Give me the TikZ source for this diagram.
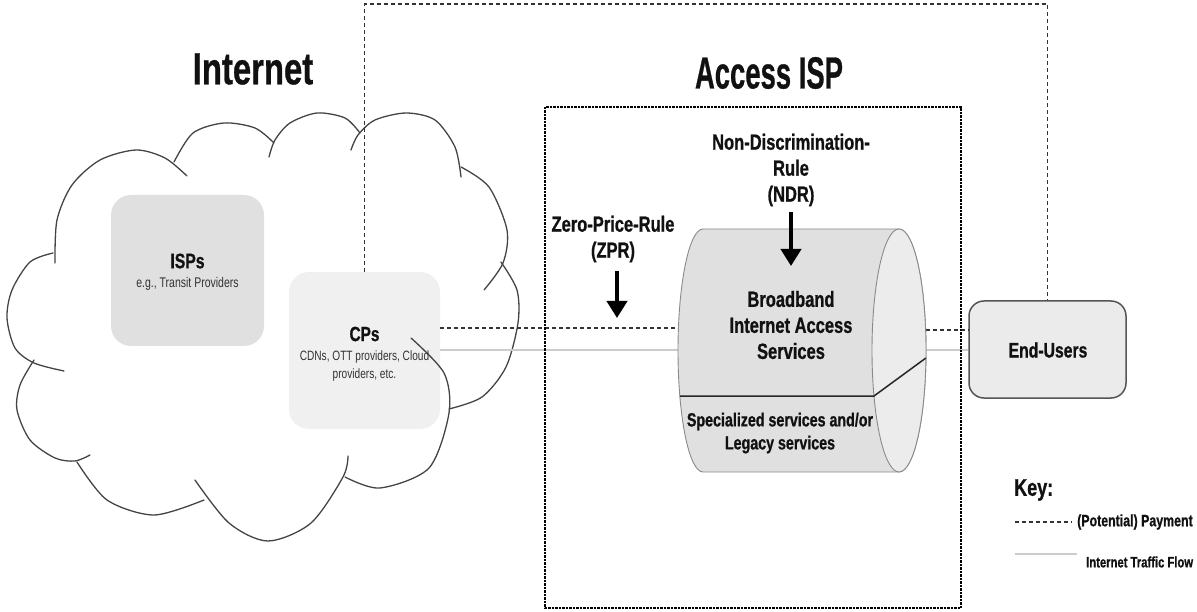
\documentclass[tikz,border=0pt]{standalone}
\usepackage{fontspec}
\usepackage{graphicx}
\usetikzlibrary{arrows.meta}
\newfontfamily\bodyf[FakeStretch=0.75, BoldFeatures={FakeBold=0.8}]{Liberation Sans}
\newfontfamily\titlef[BoldFeatures={FakeBold=0.8}]{Liberation Sans}
\definecolor{ispfill}{HTML}{E0E0E0}
\definecolor{cpfill}{HTML}{F0F0F0}
\definecolor{eufill}{HTML}{EBEBEB}
\definecolor{eudraw}{HTML}{555555}
\definecolor{cloudc}{HTML}{444444}
\definecolor{payc}{HTML}{333333}
\definecolor{flowc}{HTML}{CCCCCC}
\definecolor{cylbody}{HTML}{E0E0E0}
\definecolor{cylcap}{HTML}{ECECEC}
\definecolor{cyldraw}{HTML}{8A8A8A}
\definecolor{txtc}{HTML}{111111}
\definecolor{subc}{HTML}{333333}
\begin{document}
\begin{tikzpicture}[x=1pt,y=-1pt,
  lobe/.style={draw=cloudc, line width=1.3pt, line cap=round},
  pay/.style={draw=payc, line width=1.2pt, dash pattern=on 4pt off 3pt},
  flow/.style={draw=flowc, line width=2pt},
  ispframe/.style={draw=black, line width=2.6pt, dash pattern=on 2.5pt off 1pt},
  rbox/.style={rectangle, rounded corners=20pt, inner sep=0pt},
  txt/.style={text=txtc, align=center, inner sep=0pt},
  bigarrow/.style={line width=4pt, -{Triangle[width=20pt,length=17pt]}}
]
\useasboundingbox (0,0) rectangle (1197,612);

% boxes inside the cloud
\node[rbox, fill=ispfill, minimum width=153pt, minimum height=151pt] (isps) at (187.5,270.5) {};
\node[rbox, fill=cpfill, minimum width=151pt, minimum height=157pt] (cps) at (364.5,350.5) {};

% cloud
\draw[lobe] plot[smooth] coordinates {(187,176) (165,158) (136,150) (100,160) (72,185) (57,220) (55,263)};
\draw[lobe] plot[smooth] coordinates {(53,253) (30,262) (12,290) (7,318) (15,348) (34,363) (64,371)};
\draw[lobe] plot[smooth] coordinates {(34,360) (20,385) (17,410) (30,440) (55,458) (75,461) (90,455)};
\draw[lobe] plot[smooth] coordinates {(77,462) (107,500) (154,515) (204,500)};
\draw[lobe] plot[smooth] coordinates {(195,480) (229,523) (268,541) (311,523) (343,477) (348,456)};
\draw[lobe] plot[smooth] coordinates {(345,477) (380,488) (429,468) (449,413) (444,373) (411,338)};
\draw[lobe] plot[smooth] coordinates {(449,409) (482,397) (506,367) (518,323) (517,290) (501,262)};
\draw[lobe] plot[smooth] coordinates {(461,167) (489,187) (507,230) (503,263) (484,290)};
\draw[lobe] plot[smooth] coordinates {(461,177) (455,147) (435,120) (406,113) (375,120) (358,135) (351,150)};
\draw[lobe] plot[smooth] coordinates {(360,133) (345,118) (317,113) (290,123) (275,140) (269,157)};
\draw[lobe] plot[smooth] coordinates {(274,143) (255,128) (224,123) (193,133) (174,162)};

% texts in boxes
\node[txt, font={\bodyf\bfseries\fontsize{21}{24}\selectfont}] (ispst) at (187.5,261) {ISPs};
\node[txt, text=subc, font={\bodyf\fontsize{14}{17}\selectfont}] (ispss) at (187.5,284) {e.g., Transit Providers};
\node[txt, font={\bodyf\bfseries\fontsize{20.5}{24}\selectfont}] (cpst) at (364.5,334) {CPs};
\node[txt, text=subc, font={\bodyf\fontsize{13.5}{18}\selectfont}] (cpss) at (364.5,366) {CDNs, OTT providers, Cloud\\providers, etc.};

% End-users
\node[rbox, rounded corners=15pt, fill=eufill, draw=eudraw, line width=1.5pt,
      minimum width=157pt, minimum height=97pt] (eu) at (1047.5,349.5) {};
\node[txt, font={\bodyf\bfseries\fontsize{21}{24}\selectfont}] (eut) at (1048,350) {End-Users};

% cylinder anchor coordinates
\coordinate (cylLp) at (678.4,328);
\coordinate (cylLf) at (678,350);
\coordinate (cylRp) at (926,330);
\coordinate (cylRf) at (926,350);

% payment and traffic lines
\draw[pay] (cps.north) -- (364.5,4) -- (1047.5,4) -- (eu.north);
\draw[pay] (cps.east |- cylLp) -- (cylLp);
\draw[pay] (cylRp) -- (eu.west |- cylRp);
\draw[flow] (cps.east |- cylLf) -- (cylLf);
\draw[flow] (cylRf) -- (eu.west |- cylRf);

% cylinder
\draw[fill=cylbody, draw=cyldraw, line width=0.9pt]
  (899,229) -- (703,229)
  arc[start angle=90, end angle=270, x radius=25pt, y radius=121.5pt]
  -- (899,472)
  arc[start angle=-90, end angle=90, x radius=27pt, y radius=121.5pt] -- cycle;
\draw[fill=cylcap, draw=cyldraw, line width=0.9pt] (899,350.5) ellipse [x radius=27pt, y radius=121.5pt];
\draw[draw=black!85, line width=1.5pt] (679.8,396) -- (874,396) -- (925.9,358);

\node[txt, font={\bodyf\bfseries\fontsize{22}{26}\selectfont}] (bias) at (791,325) {Broadband\\Internet Access\\Services};
\node[txt, font={\bodyf\bfseries\fontsize{19}{23}\selectfont}] (spec) at (780,433) {Specialized services and/or\\Legacy services};

% Access ISP frame
\draw[ispframe] (545,107) rectangle (961,608);

% rules
\node[txt, font={\bodyf\bfseries\fontsize{22}{26}\selectfont}] (ndr) at (791,170) {Non-Discrimination-\\Rule\\(NDR)};
\coordinate (ndrtip) at (791,266);
\draw[bigarrow] (791,212) -- (ndrtip);
\node[txt, font={\bodyf\bfseries\fontsize{22}{26}\selectfont}] (zpr) at (613,239) {Zero-Price-Rule\\(ZPR)};
\coordinate (zprtip) at (617,318);
\draw[bigarrow] (617,271) -- (zprtip);

% titles
\node[txt, font={\titlef\bfseries\fontsize{45}{50}\selectfont}] (tint) at (253,69) {\scalebox{0.73}[1]{Internet}};
\node[txt, font={\titlef\bfseries\fontsize{45}{50}\selectfont}] (tacc) at (769,73) {\scalebox{0.61}[1]{Access ISP}};

% key
\node[txt, anchor=west, font={\bodyf\bfseries\fontsize{24}{28}\selectfont}] (key) at (1014,490) {Key:};
\coordinate (k1a) at (1015,522);
\coordinate (k1b) at (1072,522);
\coordinate (k2a) at (1015,554);
\coordinate (k2b) at (1077,554);
\draw[pay] (k1a) -- (k1b);
\draw[flow] (k2a) -- (k2b);
\node[txt, anchor=west, font={\bodyf\bfseries\fontsize{16.5}{18}\selectfont}] (kpay) at (1077,522) {(Potential) Payment};
\node[txt, anchor=west, font={\bodyf\bfseries\fontsize{15}{18}\selectfont}] (kflow) at (1086,562) {Internet Traffic Flow};
\end{tikzpicture}
\end{document}
